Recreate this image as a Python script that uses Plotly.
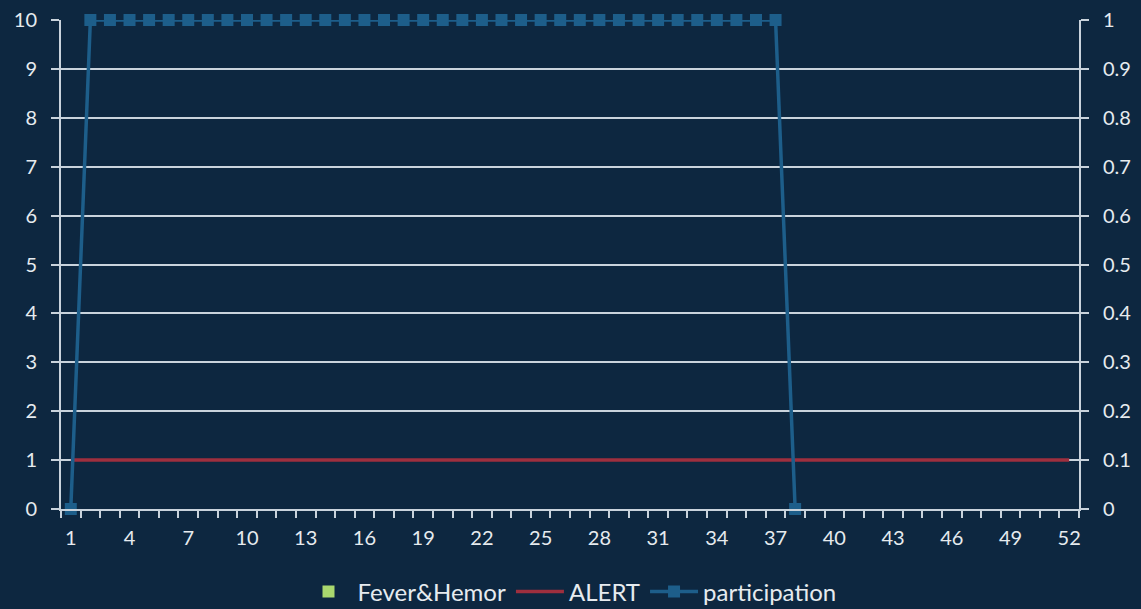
import plotly.graph_objects as go

weeks = list(range(1, 53))
fever_hemor = [0] * 52
alert = [1] * 52
participation = [0] + [1] * 36 + [0] + [None] * 14

bg = "#0d2740"
txt = "#e6ebef"
grid = "#c9d3dc"
font_family = "Lato, Open Sans, sans-serif"

fig = go.Figure()
fig.add_trace(go.Bar(x=weeks, y=fever_hemor, name="Fever&Hemor",
                     marker=dict(color="#a9d86e", line=dict(width=0)), yaxis="y"))
fig.add_trace(go.Scatter(x=weeks, y=alert, name="ALERT", mode="lines",
                         line=dict(color="#9e2f3e", width=3.5), yaxis="y"))
fig.add_trace(go.Scatter(x=weeks, y=participation, name="participation",
                         mode="lines+markers", cliponaxis=False,
                         line=dict(color="#1d5e8a", width=3.5),
                         marker=dict(symbol="square", size=12, color="#1d5e8a"),
                         yaxis="y2", connectgaps=False))

fig.update_layout(
    width=1141, height=609,
    paper_bgcolor=bg, plot_bgcolor=bg,
    margin=dict(l=61, r=62, t=20, b=100, autoexpand=False),
    font=dict(family=font_family, color=txt, size=20),
    showlegend=True,
    legend=dict(orientation="h", x=0.5, xanchor="center", xref="container",
                y=0.028, yanchor="middle", yref="container",
                font=dict(size=24, color=txt), bgcolor="rgba(0,0,0,0)",
                itemwidth=48, tracegroupgap=0),
    xaxis=dict(range=[0.5, 52.5], tickmode="array",
               tickvals=list(range(1, 53, 3)),
               ticktext=[str(v) for v in range(1, 53, 3)],
               ticks="", showgrid=False, zeroline=False, automargin=False,
               showline=True, linecolor=grid, linewidth=2,
               ticklabelstandoff=10,
               tickfont=dict(size=20, color=txt),
               minor=dict(tickmode="linear", tick0=0.5, dtick=1, ticks="outside",
                          ticklen=7, tickcolor=grid, tickwidth=2, showgrid=False)),
    yaxis=dict(range=[0, 10], dtick=1, showgrid=True, gridcolor=grid, gridwidth=2,
               zeroline=False, showline=True, linecolor=grid, linewidth=2,
               ticks="outside", ticklen=8, tickcolor=grid, tickwidth=2,
               ticklabelstandoff=10, automargin=False,
               tickfont=dict(size=20, color=txt)),
    yaxis2=dict(range=[0, 1], dtick=0.1, overlaying="y", side="right",
                showgrid=False, zeroline=False, showline=True, linecolor=grid,
                linewidth=2, ticks="outside", ticklen=8, tickcolor=grid, tickwidth=2,
                ticklabelstandoff=10, automargin=False,
                tickfont=dict(size=20, color=txt)),
    bargap=0.3,
)

fig.write_html("out.html", config={"displayModeBar": False},
               post_script="document.body.style.margin='0';document.body.style.background='" + bg + "';")
